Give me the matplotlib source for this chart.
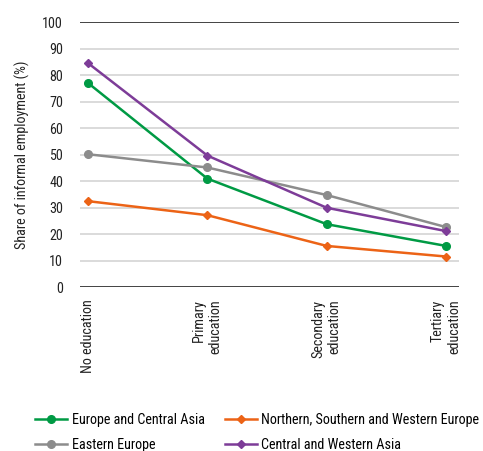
import matplotlib
matplotlib.use("Agg")
from matplotlib import pyplot as plt

# data
levels = ["No education", "Primary\neducation", "Secondary\neducation", "Tertiary\neducation"]
europe_central_asia = [77.0, 40.9, 23.7, 15.5]
northern_southern_western = [32.4, 27.1, 15.5, 11.5]
eastern_europe = [50.1, 45.1, 34.7, 22.6]
central_western_asia = [84.5, 49.6, 29.9, 21.1]

plt.rcParams["font.family"] = ["Roboto Condensed", "DejaVu Sans"]
fs = 10.2

fig = plt.figure(figsize=(4.83, 4.51), dpi=100)
ax = fig.add_axes([0.1656, 0.3636, 0.785, 0.5876])

x = range(len(levels))
l1, = ax.plot(x, europe_central_asia, color="#009A44", marker="o", markersize=5.5, lw=1.8)
l2, = ax.plot(x, northern_southern_western, color="#EC6316", marker="D", markersize=4.5, lw=1.8)
l3, = ax.plot(x, eastern_europe, color="#8C8C8C", marker="o", markersize=5.5, lw=1.8)
l4, = ax.plot(x, central_western_asia, color="#7D3C98", marker="D", markersize=4.5, lw=1.8)

ax.set_ylim(0, 100)
ax.set_xlim(-0.067, 3.109)
ax.set_yticks(range(0, 101, 10))
for v in range(10, 100, 10):
    ax.axhline(v, color="#d4d4d4", lw=1.2, zorder=0)
ax.axhline(0, color="#222222", lw=1.2, zorder=0)
ax.axhline(100, color="#222222", lw=1.2, zorder=0)
for s in ax.spines.values():
    s.set_visible(False)

ax.set_xticks(list(x))
ax.set_xticklabels(levels, rotation=90, va="top", ha="center", ma="right", fontsize=fs)
ax.tick_params(axis="both", length=0, labelsize=fs, labelcolor="#222222")
ax.tick_params(axis="x", pad=9)
ax.tick_params(axis="y", pad=12.2)
ax.set_ylabel("Share of informal employment (%)", fontsize=fs, labelpad=9, color="#222222")

fig.legend([l1, l3, l2, l4],
           ["Europe and Central Asia", "Eastern Europe",
            "Northern, Southern and Western Europe", "Central and Western Asia"],
           ncol=2, loc="upper left", bbox_to_anchor=(0.0607, 0.097), frameon=False,
           fontsize=fs, handlelength=2.25, columnspacing=1.4, handletextpad=0.35,
           labelspacing=0.8, borderaxespad=0)

plt.savefig("out.png", dpi=100)
plt.close()
